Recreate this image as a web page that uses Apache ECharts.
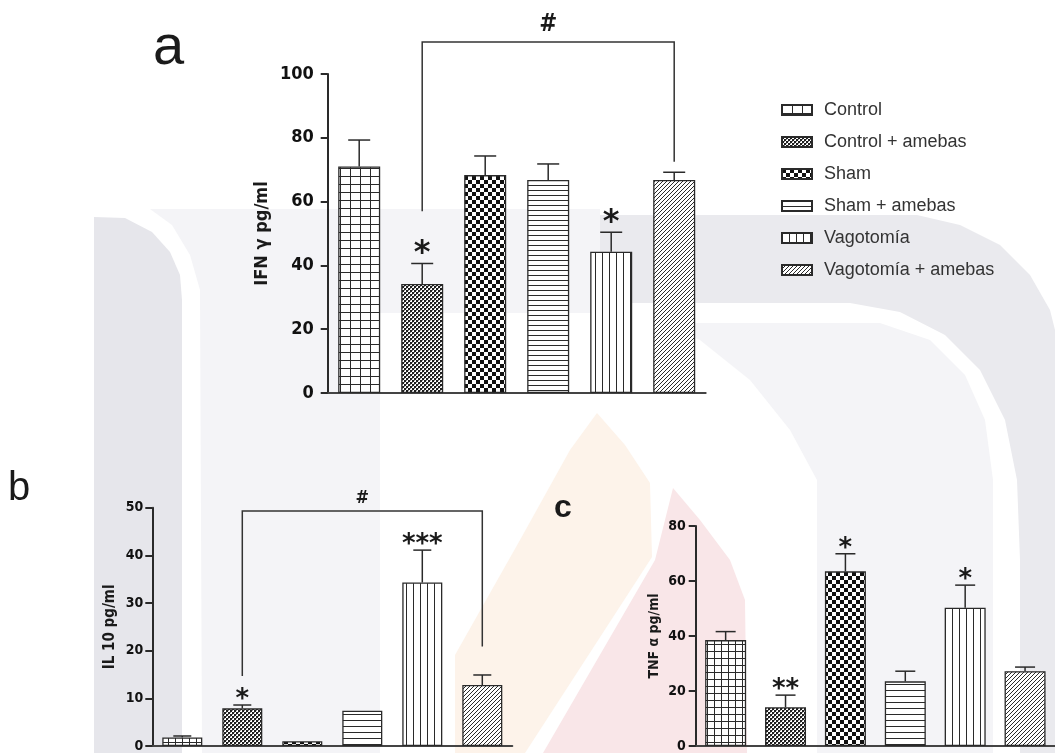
<!DOCTYPE html>
<html><head><meta charset="utf-8">
<script src="https://cdn.jsdelivr.net/npm/echarts@6/dist/echarts.min.js"></script>
<style>html,body{margin:0;padding:0;background:#fff}#c{width:1055px;height:753px}</style>
</head><body><div id="c"></div>
<script>
// ---------- data ----------
const groups = ['Control', 'Control + amebas', 'Sham', 'Sham + amebas', 'Vagotomía', 'Vagotomía + amebas'];

const ifnMean   = [71.0, 34.2, 68.3, 66.8, 44.3, 66.8];
const ifnErrTop = [79.3, 40.6, 74.3, 71.8, 50.4, 69.2];
const ifnStars  = ['', '*', '', '', '*', ''];
const ifnRange  = [0, 100];
const ifnStep   = 20;
const ifnBracket = [1, 5, 110, 57, 72.5];   // from, to, top, left end, right end

const il10Mean   = [1.8, 7.9, 1.0, 7.4, 34.3, 12.8];
const il10ErrTop = [2.1, 8.6, 1.0, 7.4, 41.1, 14.9];
const il10Stars  = ['', '*', '', '', '***', ''];
const il10Range  = [0, 50];
const il10Step   = 10;
const il10Bracket = [1, 5, 49.3, 14.7, 20.9];

const tnfMean   = [38.5, 14.1, 63.5, 23.5, 50.3, 27.2];
const tnfErrTop = [41.6, 18.5, 69.9, 27.2, 58.5, 28.7];
const tnfStars  = ['', '**', '*', '', '*', ''];
const tnfRange  = [0, 80];
const tnfStep   = 20;

const axisNames = ['IFN γ pg/ml', 'IL 10 pg/ml', 'TNF α pg/ml'];
const panelLetters = ['a', 'b', 'c'];
const hashMark = '#';

// ---------- patterns ----------
const INK = '#2a2a2a';
function mk(w, h, draw) {
  const c = document.createElement('canvas'); c.width = w; c.height = h;
  const g = c.getContext('2d'); g.fillStyle = '#fff'; g.fillRect(0, 0, w, h);
  draw(g, w, h); return { image: c, repeat: 'repeat' };
}
function patterns(gw, gh, hs, vs) {
  return [
    mk(gw, gh, (g, w, h) => { g.fillStyle = INK; g.fillRect(0, 0, w, 1); g.fillRect(0, 0, 1, h); }),
    mk(4, 4, (g) => { g.fillStyle = '#1e1e1e'; g.fillRect(0, 0, 2, 2); g.fillRect(2, 2, 2, 2); g.fillStyle='#888'; g.fillRect(2,0,1,1);g.fillRect(0,2,1,1); }),
    mk(8, 8, (g) => { g.fillStyle = '#111'; g.fillRect(0, 0, 4, 4); g.fillRect(4, 4, 4, 4); }),
    mk(4, hs, (g, w) => { g.fillStyle = INK; g.fillRect(0, 0, w, 1); }),
    mk(vs, 4, (g, w, h) => { g.fillStyle = INK; g.fillRect(0, 0, 1, h); }),
    mk(4, 4, (g) => { g.strokeStyle = INK; g.lineWidth = 1;
      g.beginPath(); g.moveTo(-1, 5); g.lineTo(5, -1); g.moveTo(-1, 1); g.lineTo(1, -1); g.moveTo(3, 5); g.lineTo(5, 3); g.stroke(); })
  ];
}
const patA = patterns(10, 8, 5, 7);
const patB = patterns(7, 7, 6, 7);
const patC = patterns(7, 7, 6, 7);

// ---------- builders ----------
const numFont = '"DejaVu Sans Condensed", "Liberation Sans Narrow", sans-serif';
function bars(ci, means, barW, pats) {
  return groups.map((g, i) => ({
    type: 'bar', name: g, xAxisIndex: ci, yAxisIndex: ci, barWidth: barW, barGap: '-100%',
    data: means.map((v, j) => (j === i ? v : '-')),
    itemStyle: { color: pats[i], borderColor: '#2a2a2a', borderWidth: 1.3 },
    silent: true, animation: false, z: 2
  }));
}
function errs(ci, means, tops, cap) {
  return {
    type: 'custom', xAxisIndex: ci, yAxisIndex: ci, silent: true, animation: false, z: 3,
    data: means.map((m, i) => [i, m, tops[i]]),
    renderItem: (p, api) => {
      const a = api.coord([api.value(0), api.value(1)]);
      const b = api.coord([api.value(0), api.value(2)]);
      if (Math.abs(a[1] - b[1]) < 0.5) return null;
      const st = { stroke: '#2a2a2a', lineWidth: 1.5 };
      return { type: 'group', children: [
        { type: 'line', shape: { x1: a[0], y1: a[1], x2: b[0], y2: b[1] }, style: st },
        { type: 'line', shape: { x1: b[0] - cap, y1: b[1], x2: b[0] + cap, y2: b[1] }, style: st }
      ] };
    }
  };
}
function stars(ci, tops, labels, fs, off) {
  return {
    type: 'custom', xAxisIndex: ci, yAxisIndex: ci, silent: true, animation: false, z: 4,
    data: tops.map((t, i) => [i, t, labels[i]]),
    renderItem: (p, api) => {
      const lab = labels[p.dataIndex]; if (!lab) return null;
      const pt = api.coord([api.value(0), api.value(1)]);
      return { type: 'text', x: pt[0], y: pt[1] - off,
        style: { text: lab, fontSize: fs, fontWeight: 'bold', fontFamily: '"DejaVu Sans", sans-serif',
                 fill: '#1a1a1a', align: 'center', verticalAlign: 'middle' } };
    }
  };
}
function bracket(ci, br, fs, hashOff) {
  return {
    type: 'custom', xAxisIndex: ci, yAxisIndex: ci, silent: true, animation: false, z: 4,
    data: [br],
    renderItem: (p, api) => {
      const p1 = api.coord([api.value(0), api.value(3)]);
      const p2 = api.coord([api.value(0), api.value(2)]);
      const p3 = api.coord([api.value(1), api.value(2)]);
      const p4 = api.coord([api.value(1), api.value(4)]);
      return { type: 'group', children: [
        { type: 'polyline', shape: { points: [p1, p2, p3, p4] }, style: { stroke: '#333', lineWidth: 1.5, fill: null } },
        { type: 'text', x: (p2[0] + p3[0]) / 2, y: p2[1] - hashOff,
          style: { text: hashMark, fontSize: fs, fontWeight: 'bold', fontFamily: numFont, fill: '#1a1a1a', align: 'center', verticalAlign: 'middle' } }
      ] };
    }
  };
}
function yAx(ci, range, step, fs, margin, nameGap, nameFs) {
  return {
    gridIndex: ci, type: 'value', min: range[0], max: range[1], interval: step,
    name: axisNames[ci], nameLocation: 'middle', nameGap: nameGap,
    nameTextStyle: { fontFamily: numFont, fontWeight: 'bold', fontSize: nameFs, color: '#1a1a1a' },
    axisLine: { show: true, lineStyle: { color: '#2a2a2a', width: 2 } },
    axisTick: { show: true, length: 7, lineStyle: { color: '#2a2a2a', width: 2 } },
    axisLabel: { fontFamily: numFont, fontWeight: 'bold', fontSize: fs, color: '#111', margin: margin },
    splitLine: { show: false }
  };
}
function xAx(ci) {
  return {
    gridIndex: ci, type: 'category', data: groups, boundaryGap: true,
    axisLine: { show: true, lineStyle: { color: '#444', width: 2 } },
    axisTick: { show: false }, axisLabel: { show: false }, splitLine: { show: false }
  };
}

// ---------- background watermark ----------
const bg = [
  { fill: '#e6e6eb', pts: [[94,217],[125,218],[152,232],[170,252],[180,275],[182,300],[182,753],[94,753]] },
  { fill: '#f4f4f7', pts: [[150,209],[600,209],[600,313],[380,313],[380,753],[202,753],[200,290],[190,255],[172,225]] },
  { fill: '#eaeaee', pts: [[600,215],[917,215],[960,225],[1000,245],[1030,275],[1050,310],[1055,330],[1055,753],[1020,753],[1020,560],[1017,480],[1005,420],[980,370],[945,335],[900,312],[850,303],[600,303]] },
  { fill: '#f4f4f7', pts: [[660,323],[880,323],[930,340],[965,375],[985,420],[993,480],[993,753],[817,753],[817,480],[790,430],[750,380],[700,340]] },
  { fill: '#fdf3ea', pts: [[597,413],[625,445],[650,483],[652,557],[525,753],[455,753],[455,655],[520,540],[570,450]] },
  { fill: '#f9e6e8', pts: [[673,488],[700,520],[730,560],[745,600],[747,753],[543,753],[655,560],[665,520]] }
];
const graphics = bg.map(b => ({ type: 'polygon', shape: { points: b.pts }, style: { fill: b.fill }, z: -10, silent: true }));
const letterPos = [[153, 49, 56, 'normal'], [8, 489, 40, 'normal'], [554, 508, 32, 'bold']];
panelLetters.forEach((t, i) => graphics.push({
  type: 'text', x: letterPos[i][0], y: letterPos[i][1], silent: true, z: 10,
  style: { text: t, fontSize: letterPos[i][2], fontWeight: letterPos[i][3], fontFamily: '"Liberation Sans", Arial, sans-serif', fill: '#1a1a1a', align: 'left', verticalAlign: 'middle' }
}));

// ---------- chart ----------
const chart = echarts.init(document.getElementById('c'), null, { renderer: 'canvas' });
chart.setOption({
  backgroundColor: '#ffffff',
  animation: false,
  graphic: { elements: graphics },
  legend: {
    data: groups, orient: 'vertical', left: 776, top: 96, icon: 'rect',
    itemWidth: 30, itemHeight: 10, itemGap: 14, selectedMode: false,
    textStyle: { fontSize: 18, color: '#333', fontFamily: '"Liberation Sans", Arial, sans-serif', padding: [0, 0, 0, 7] }
  },
  grid: [
    { left: 327.7, top: 74, width: 378, height: 319 },
    { left: 152.3, top: 507.7, width: 360, height: 241.6 },
    { left: 695.7, top: 526, width: 366, height: 220 }
  ],
  xAxis: [xAx(0), xAx(1), xAx(2)],
  yAxis: [
    yAx(0, ifnRange, ifnStep, 18, 14, 56, 18),
    yAx(1, il10Range, il10Step, 14, 9, 35, 15),
    yAx(2, tnfRange, tnfStep, 14, 10, 34, 14)
  ],
  series: [
    ...bars(0, ifnMean, 42, patA), errs(0, ifnMean, ifnErrTop, 11), stars(0, ifnErrTop, ifnStars, 32, 10), bracket(0, ifnBracket, 24, 17),
    ...bars(1, il10Mean, 40, patB), errs(1, il10Mean, il10ErrTop, 9), stars(1, il10ErrTop, il10Stars, 26, 5), bracket(1, il10Bracket, 18, 13),
    ...bars(2, tnfMean, 41, patC), errs(2, tnfMean, tnfErrTop, 10), stars(2, tnfErrTop, tnfStars, 26, 5)
  ]
});
</script></body></html>
